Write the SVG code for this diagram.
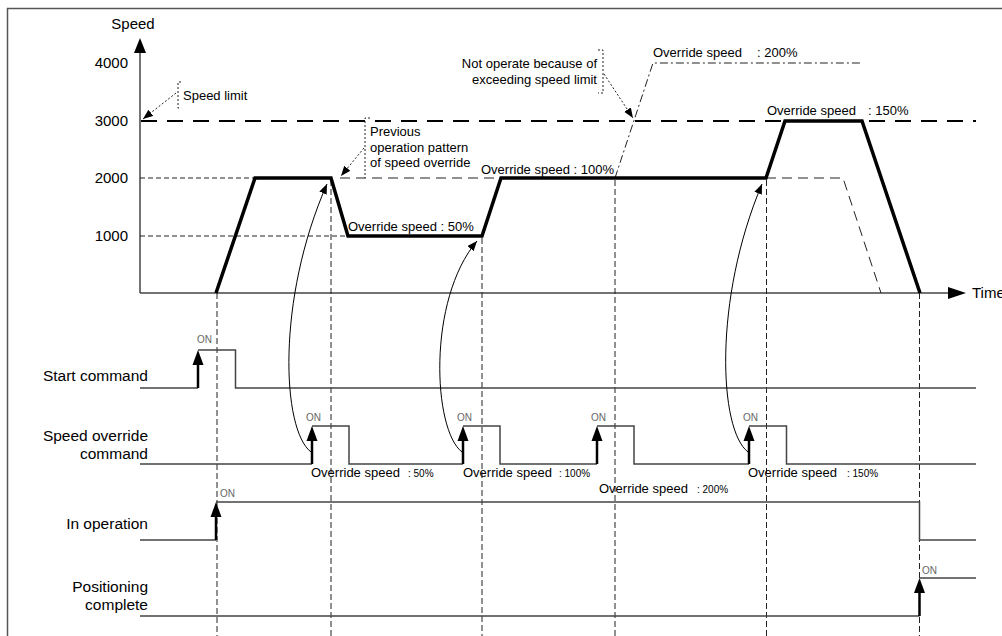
<svg xmlns="http://www.w3.org/2000/svg" width="1002" height="636" viewBox="0 0 1002 636">
<style>
text{font-family:"Liberation Sans",Arial,sans-serif;fill:#000}
.lbl{font-size:15.5px}
.ax{font-size:15px}
.t13{font-size:13px}
.t10{font-size:10px}
.on{font-size:10px;fill:#666}
.prof{fill:none;stroke:#000;stroke-width:3.5;stroke-linejoin:miter}
.vd{fill:none;stroke:#222;stroke-width:1;stroke-dasharray:6 3}
.hd{fill:none;stroke:#222;stroke-width:1;stroke-dasharray:5 3}
.prev{fill:none;stroke:#222;stroke-width:1;stroke-dasharray:10 6}
.lim{fill:none;stroke:#000;stroke-width:2;stroke-dasharray:16 10}
.dd{fill:none;stroke:#222;stroke-width:1;stroke-dasharray:8 3 2 3}
.dot{fill:none;stroke:#222;stroke-width:1;stroke-dasharray:2 2}
.sig{fill:none;stroke:#444;stroke-width:1.5}
.stem{fill:none;stroke:#000;stroke-width:2.5}
.curve{fill:none;stroke:#000;stroke-width:1}
</style>
<defs>
<marker id="ah" markerUnits="userSpaceOnUse" markerWidth="12" markerHeight="10" refX="10" refY="4" orient="auto">
<path d="M0,0 L10,4 L0,8 Z" fill="#000"/>
</marker>
</defs>
<!-- frame -->
<path d="M7.5,636 V8.5 H1002" fill="none" stroke="#555" stroke-width="1.5"/>

<g id="axes">
<line x1="140" y1="52" x2="140" y2="293" stroke="#444" stroke-width="1.5"/>
<polygon points="140,38 134,53 146,53" fill="#000"/>
<line x1="140" y1="293" x2="950" y2="293" stroke="#444" stroke-width="1.5"/>
<polygon points="966,293 948,287 948,299" fill="#000"/>
<text class="ax" x="133" y="29" text-anchor="middle">Speed</text>
<text class="ax" x="128" y="68" text-anchor="end">4000</text>
<text class="ax" x="128" y="126" text-anchor="end">3000</text>
<text class="ax" x="128" y="183" text-anchor="end">2000</text>
<text class="ax" x="128" y="241" text-anchor="end">1000</text>
<text class="ax" x="972" y="298">Time</text>
</g>

<g id="guides">
<line class="lim" x1="141" y1="121" x2="976" y2="121"/>
<line class="hd" x1="140" y1="178" x2="254" y2="178"/>
<line class="hd" x1="140" y1="236" x2="348" y2="236"/>
<path class="prev" d="M340,178 H500"/>
<path class="prev" d="M766,178 H843 L881,293"/>
<path class="dd" d="M615,178 L653,63 H862"/>
<line class="vd" x1="217" y1="293" x2="217" y2="636"/>
<line class="vd" x1="331" y1="180" x2="331" y2="636"/>
<line class="vd" x1="482" y1="238" x2="482" y2="636"/>
<line class="vd" x1="615" y1="180" x2="615" y2="636"/>
<line class="vd" x1="766.5" y1="180" x2="766.5" y2="636"/>
<line class="vd" x1="919.5" y1="293" x2="919.5" y2="636"/>
</g>

<g id="profile">
<polyline class="prof" points="216,293 255,178 331,178 348,236 482,236 501,178 766,178 785,121 862,121 920,293"/>
</g>

<g id="speed-limit-note">
<path class="dot" d="M181,82 H178 V108 H181"/>
<text class="t13" x="183" y="100">Speed limit</text>
<line class="dot" x1="176" y1="93" x2="143" y2="119" marker-end="url(#ah)"/>
</g>

<g id="previous-note">
<path class="dot" d="M370,118 H365 V178"/>
<text class="t13" x="370" y="136">Previous</text>
<text class="t13" x="370" y="152">operation pattern</text>
<text class="t13" x="370" y="167">of speed override</text>
<line class="dot" x1="364" y1="148" x2="341" y2="176" marker-end="url(#ah)"/>
</g>

<g id="not-operate-note">
<path class="dot" d="M598,50 H603 V93 H598"/>
<text class="t13" x="597" y="68" text-anchor="end">Not operate because of</text>
<text class="t13" x="597" y="84" text-anchor="end">exceeding speed limit</text>
<line class="dot" x1="604" y1="74" x2="633" y2="118" marker-end="url(#ah)"/>
</g>

<g id="profile-labels">
<text class="t13" x="653" y="57">Override speed<tspan x="757">: 200%</tspan></text>
<text class="t13" x="767" y="115">Override speed<tspan x="868">: 150%</tspan></text>
<text class="t13" x="481" y="174">Override speed : 100%</text>
<text class="t13" x="348" y="231">Override speed : 50%</text>
</g>

<g id="start-command">
<text class="lbl" x="148" y="381" text-anchor="end">Start command</text>
<path class="sig" d="M140,388 H198 M198,350 H235.5 V388 H976"/>
<line class="stem" x1="198" y1="388" x2="198" y2="362"/>
<polygon points="198,350 192.5,365 203.5,365" fill="#000"/>
<text class="on" x="197" y="343">ON</text>
</g>

<g id="speed-override-command">
<text class="lbl" x="148" y="441" text-anchor="end">Speed override</text>
<text class="lbl" x="148" y="459" text-anchor="end">command</text>
<path class="sig" d="M140,464 H312 M312,426 H349 V464 H463 M463,426 H500 V464 H597 M597,426 H634 V464 H749 M749,426 H786.5 V464 H976"/>
<line class="stem" x1="312" y1="464" x2="312" y2="438"/>
<polygon points="312,426 306.5,441 317.5,441" fill="#000"/>
<line class="stem" x1="463" y1="464" x2="463" y2="438"/>
<polygon points="463,426 457.5,441 468.5,441" fill="#000"/>
<line class="stem" x1="597" y1="464" x2="597" y2="438"/>
<polygon points="597,426 591.5,441 602.5,441" fill="#000"/>
<line class="stem" x1="749" y1="464" x2="749" y2="438"/>
<polygon points="749,426 743.5,441 754.5,441" fill="#000"/>
<text class="on" x="306" y="421">ON</text>
<text class="on" x="457" y="421">ON</text>
<text class="on" x="591" y="421">ON</text>
<text class="on" x="743" y="421">ON</text>
<text class="t13" x="311" y="477">Override speed<tspan class="t10" x="408">: 50%</tspan></text>
<text class="t13" x="463" y="477">Override speed<tspan class="t10" x="559">: 100%</tspan></text>
<text class="t13" x="599" y="493">Override speed<tspan class="t10" x="697">: 200%</tspan></text>
<text class="t13" x="748" y="477">Override speed<tspan class="t10" x="847">: 150%</tspan></text>
</g>

<g id="in-operation">
<text class="lbl" x="148" y="529" text-anchor="end">In operation</text>
<path class="sig" d="M140,540 H216 M216,502 H919.5 V540 H976"/>
<line class="stem" x1="216" y1="540" x2="216" y2="514"/>
<polygon points="216,502 210.5,517 221.5,517" fill="#000"/>
<text class="on" x="220" y="497">ON</text>
</g>

<g id="positioning-complete">
<text class="lbl" x="148" y="592" text-anchor="end">Positioning</text>
<text class="lbl" x="148" y="610" text-anchor="end">complete</text>
<path class="sig" d="M140,616 H919.5 M919.5,578 H976"/>
<line class="stem" x1="919.5" y1="616" x2="919.5" y2="590"/>
<polygon points="919.5,578 914,593 925,593" fill="#000"/>
<text class="on" x="922" y="574">ON</text>
</g>

<g id="connectors">
<path class="curve" d="M311,452 C282,430 276,300 327,184" marker-end="url(#ah)"/>
<path class="curve" d="M462,452 C433,430 427,300 477,241" marker-end="url(#ah)"/>
<path class="curve" d="M748,452 C719,430 713,300 762,184" marker-end="url(#ah)"/>
</g>
</svg>
